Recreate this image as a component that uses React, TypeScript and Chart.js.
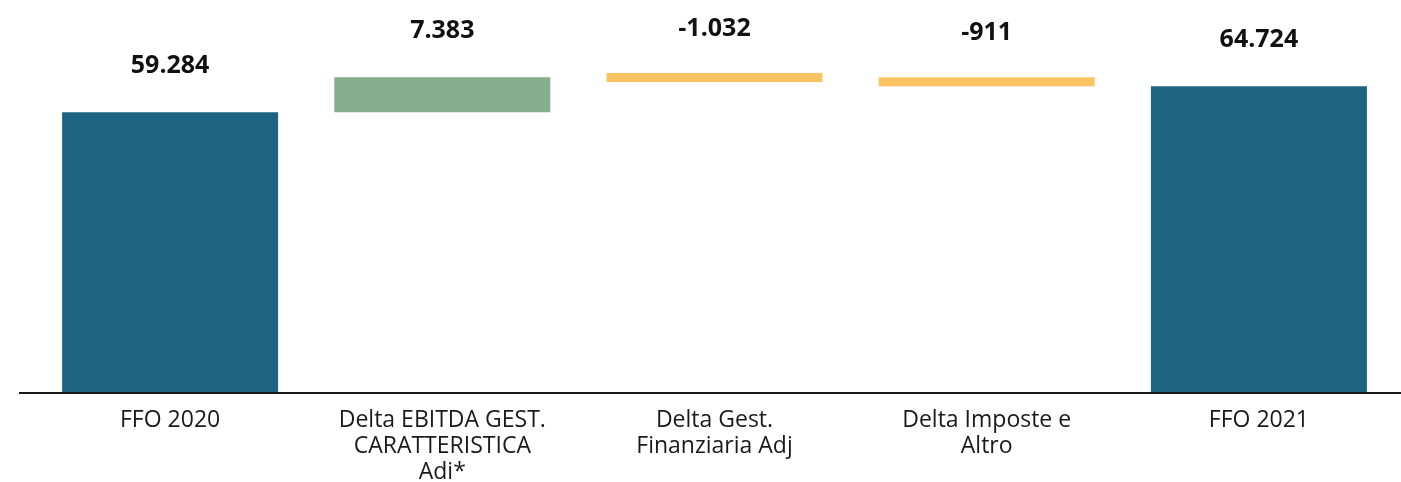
import React, { useEffect, useRef } from "react";
import { Chart, registerables } from "chart.js";

Chart.register(...registerables);

const categories: string[][] = [
  ["FFO 2020"],
  ["Delta EBITDA GEST.", "CARATTERISTICA", "Adi*"],
  ["Delta Gest.", "Finanziaria Adj"],
  ["Delta Imposte e", "Altro"],
  ["FFO 2021"],
];
const values: number[] = [59284, 7383, -1032, -911, 64724];
const kinds: string[] = ["total", "delta", "delta", "delta", "total"];

const COLOR_TOTAL = "#1D6382";
const COLOR_UP = "#86AD8E";
const COLOR_DOWN = "#FBC462";

function formatIt(n: number): string {
  const sign = n < 0 ? "-" : "";
  const s = Math.abs(Math.round(n)).toString();
  return sign + s.replace(/\B(?=(\d{3})+(?!\d))/g, ".");
}

function buildRanges(): [number, number][] {
  const out: [number, number][] = [];
  let running = 0;
  values.forEach((v, i) => {
    if (kinds[i] === "total") {
      out.push([0, v]);
      running = v;
    } else {
      out.push([running, running + v]);
      running += v;
    }
  });
  return out;
}

const valueLabelPlugin = {
  id: "valueLabels",
  afterDatasetsDraw(chart: any) {
    const ctx = chart.ctx;
    const meta = chart.getDatasetMeta(0);
    ctx.save();
    ctx.font = "bold 25px 'Open Sans'";
    ctx.fillStyle = "#111111";
    ctx.textAlign = "center";
    ctx.textBaseline = "middle";
    meta.data.forEach((bar: any, i: number) => {
      const top = Math.min(bar.y, bar.base);
      const offset = kinds[i] === "delta" && values[i] < 0 ? 44 : 46;
      ctx.fillText(formatIt(values[i]), bar.x, top - offset);
    });
    ctx.restore();
  },
};

const axisLinePlugin = {
  id: "axisLine",
  afterDatasetsDraw(chart: any) {
    const ctx = chart.ctx;
    const y = chart.scales.y.getPixelForValue(0);
    ctx.save();
    ctx.strokeStyle = "#1a1a1a";
    ctx.lineWidth = 2;
    ctx.beginPath();
    ctx.moveTo(19, y);
    ctx.lineTo(chart.width, y);
    ctx.stroke();
    ctx.restore();
  },
};

export default function App() {
  const ref = useRef<HTMLCanvasElement | null>(null);

  useEffect(() => {
    document.body.style.margin = "0";
    if (!ref.current) return;
    const ranges = buildRanges();
    const colors = values.map((v, i) =>
      kinds[i] === "total" ? COLOR_TOTAL : v >= 0 ? COLOR_UP : COLOR_DOWN
    );
    const chart = new Chart(ref.current, {
      type: "bar",
      data: {
        labels: categories,
        datasets: [
          {
            data: ranges as any,
            backgroundColor: colors,
            borderWidth: 0,
            categoryPercentage: 1,
            barPercentage: 0.7935,
            minBarLength: 9,
          },
        ],
      },
      options: {
        animation: false,
        responsive: false,
        layout: { padding: { left: 34, right: 6, top: 14, bottom: 0 } },
        plugins: {
          legend: { display: false },
          tooltip: { enabled: false },
        },
        scales: {
          x: {
            grid: { display: false, drawTicks: false },
            border: { display: false },
            ticks: {
              color: "#1a1a1a",
              padding: 14,
              maxRotation: 0,
              autoSkip: false,
              font: { family: "'Open Sans'", size: 23, lineHeight: "26px" as any },
            },
            afterFit: (scale: any) => {
              scale.height = 89;
            },
          },
          y: {
            display: false,
            min: 0,
            max: 80000,
          },
        },
      },
      plugins: [valueLabelPlugin, axisLinePlugin],
    });
    return () => chart.destroy();
  }, []);

  return (
    <div style={{ width: 1401, height: 482 }}>
      <canvas ref={ref} width={1401} height={482} />
    </div>
  );
}
